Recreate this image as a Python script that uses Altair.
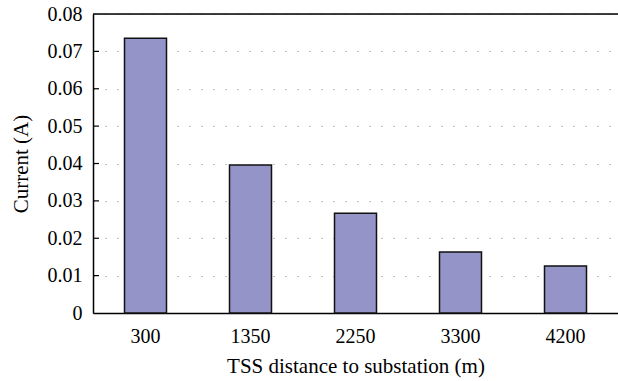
import altair as alt
import pandas as pd

distances = ["300", "1350", "2250", "3300", "4200"]
currents = [0.0735, 0.0396, 0.0267, 0.0163, 0.0126]
y_ticks = [0, 0.01, 0.02, 0.03, 0.04, 0.05, 0.06, 0.07, 0.08]

df = pd.DataFrame({"dist": distances, "cur": currents})
ticks_df = pd.DataFrame({"cur": y_ticks[1:-1]})
top_df = pd.DataFrame({"cur": [y_ticks[-1]]})

FONT = "Liberation Serif"

yscale = alt.Scale(domain=[0, 0.08], nice=False)
yaxis = alt.Axis(title="Current (A)", values=y_ticks,
                 labelExpr="datum.value == 0 ? '0' : format(datum.value, '.2f')",
                 labelOverlap=False,
                 ticks=False, domainColor="black", domainWidth=1.5,
                 grid=True, gridDash=[1, 11], gridColor="#888888",
                 gridWidth=1.2,
                 labelPadding=11, titlePadding=16,
                 labelFont=FONT, labelFontSize=20, labelColor="black",
                 titleFont=FONT, titleFontSize=21, titleFontWeight="normal",
                 titleColor="black")
yenc = alt.Y("cur:Q", scale=yscale, axis=yaxis, title="Current (A)")

bars = alt.Chart(df).mark_bar(
    color="#9494c8", stroke="#111111", strokeWidth=1.5
).encode(
    x=alt.X("dist:N", sort=distances,
            scale=alt.Scale(paddingInner=0.6, paddingOuter=0.3),
            axis=alt.Axis(title="TSS distance to substation (m)", labelAngle=0,
                          ticks=False, domainColor="black", domainWidth=1.5,
                          labelPadding=13, titlePadding=9,
                          labelFont=FONT, labelFontSize=20, labelColor="black",
                          titleFont=FONT, titleFontSize=21, titleFontWeight="normal",
                          titleColor="black")),
    y=yenc,
)

tick_marks = alt.Chart(ticks_df).mark_rule(color="black", strokeWidth=1.2).encode(
    y=yenc,
    x=alt.value(0), x2=alt.value(6),
)

top_line = alt.Chart(top_df).mark_rule(color="black", strokeWidth=1.5).encode(
    y=yenc,
    x=alt.value(0), x2=alt.value(525),
)

chart = alt.layer(bars, tick_marks, top_line).properties(
    width=525, height=299,
    autosize=alt.AutoSizeParams(type="none"),
    padding={"left": 93, "top": 14, "right": 0, "bottom": 68},
).configure_view(stroke=None).configure(background="white")

chart.save("out.html", embed_options={"renderer": "svg", "actions": False})
